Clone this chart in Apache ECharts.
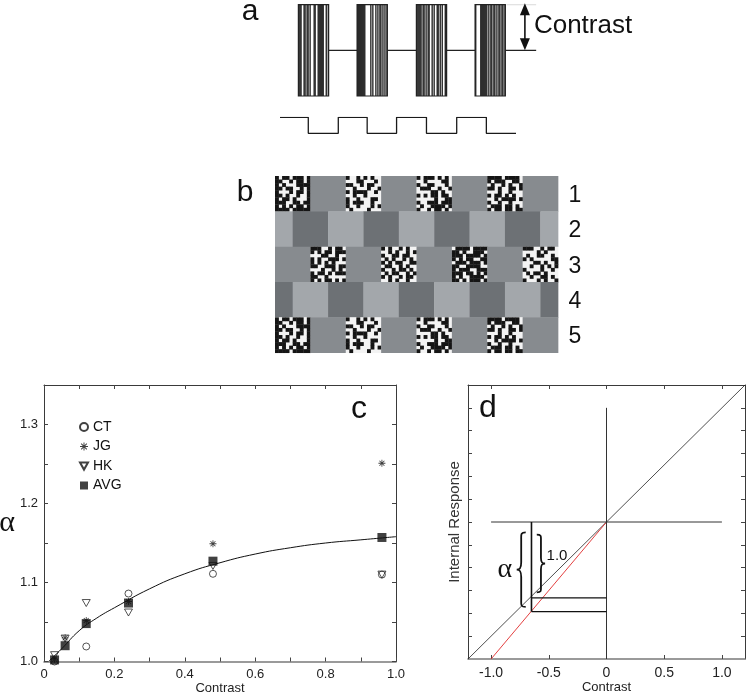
<!DOCTYPE html>
<html><head><meta charset="utf-8">
<script src="https://cdn.jsdelivr.net/npm/echarts@6/dist/echarts.min.js"></script>
<style>html,body{margin:0;padding:0;background:#fff}#c{width:747px;height:696px}</style>
</head><body><div id="c"></div>
<script>
// ===== Panel c data =====
const contrastLevels = [0.03, 0.06, 0.12, 0.24, 0.48, 0.96];
const alphaCT  = [1.000, 0.998, 1.019, 1.086, 1.111, 1.110];
const alphaJG  = [1.003, 1.030, 1.052, 1.076, 1.149, 1.251];
const alphaHK  = [1.008, 1.029, 1.074, 1.062, 1.121, 1.110];
const alphaAVG = [1.002, 1.020, 1.048, 1.074, 1.127, 1.157];
const fitX = [0.013, 0.05, 0.1, 0.15, 0.2, 0.3, 0.4, 0.5, 0.6, 0.7, 0.8, 0.9, 1.0];
const fitY = [1.000, 1.016, 1.039, 1.055, 1.068, 1.092, 1.111, 1.125, 1.136, 1.144, 1.150, 1.154, 1.158];
const cXLabels = [0, 0.2, 0.4, 0.6, 0.8, 1.0];
const cXTicks = [0, 0.1, 0.2, 0.3, 0.4, 0.5, 0.6, 0.7, 0.8, 0.9, 1.0];
const cYLabels = [1.0, 1.1, 1.2, 1.3];
const cYTicks = [1.0, 1.05, 1.1, 1.15, 1.2, 1.25, 1.3];
const seriesNames = ['CT', 'JG', 'HK', 'AVG'];

// ===== Panel d data =====
const dXLabels = [-1.0, -0.5, 0, 0.5, 1.0];
const dYTicks = [-1.0, -0.8, -0.6, -0.4, -0.2, 0, 0.2, 0.4, 0.6, 0.8, 1.0];
const dIdentity = [[-1.2, -1.2], [1.2, 1.2]];
const dScaled = [[-1.0, -1.2], [0, 0]];
const dVertical = [[0, -1.2], [0, 1.0]];
const dHorizontal = [[-1.0, 0], [1.0, 0]];
const dUpperLevel = [[-0.65, -0.665], [0, -0.665]];
const dLowerLevel = [[-0.65, -0.785], [0, -0.785]];
const dBracketLine = [[-0.65, 0], [-0.65, -0.785]];
// braces: [x0, y0, x1, y1, facing (1 = right "}", 0 = left "{")]
const dBraces = [[-0.604, -0.111, -0.532, -0.616, 1], [-0.778, -0.091, -0.700, -0.744, 0]];
const dAlphaPos = [-0.88, -0.413];
const dOnePos = [-0.429, -0.294];

// ===== Panel a data =====
const barStarts = [0.31, 1.30, 2.30, 3.29];
const barDuration = 0.51;
const barStripes = [
  '111001101101000110011111100101',
  '111111110000010100101011010101',
  '111110110101100101001101010011',
  '100001111111010110110101101101'
];
const meanLine = [[0.81, 0], [4.32, 0]];
const topGuide = [[3.82, 1], [4.32, 1]];
const arrowT = 4.13, arrowFrom = 0, arrowTo = 1.03;
const squareStart = 0, squareEnd = 3.98;
const squareEdges = [0.477, 0.983, 1.47, 1.966, 2.47, 2.98, 3.48];

// ===== Panel b data =====
const noisePatches = [
 ['#.##.###.#','##..#.##.#','#.#...####','##.##..#.#','#...#.##.#','##.#..#..#','#.##.#...#','###..##.##','#.#.#.##.#','####.#####'],
 ['#..#.#.#..','...##...#.','##..#.##..','..#...#..#','#.####..#.','..#..#....','#..#...##.','#.###..#..','#..#...#.#','.#....#...'],
 ['#.###.#.#.','..#....##.','#..##...#.','.###..#..#','....##.#..','#.#.##.##.','.....#..##','#..###.###','.#..####.#','#..#.##.#.'],
 ['####.####.','#.###..##.','.#..#.#..#','##.#..##.#','...#..#...','#.##.#.#..','..#.####.#','#..#..#...','.###.##.#.','#.##.##.##'],
 ['###..#.##.','#.#.##.###','...##..#..','#.#..###.#','#.#.#.#...','##..###.##','...#..#.#.','#.##.#.###','##..#.....','#.#.##.#.#'],
 ['#.#..#.#..','..#.#..#.#','#..##.##..','.#.#..#.#.','#.#.##..##','.##..#.#..','#..#.##.#.','.#.##..#.#','#.#..#.##.','..#.#..#..'],
 ['.####.####','##.#..###.','###.####.#','#.#.##..##','.###.###.#','##..####..','#.###..###','###.##.#.#','#.#..####.','##.#.###.#'],
 ['###..#.##.','....#.#...','.#..##..#.','#.#.....##','...##.#..#','..#..#.#.#','#....#..#.','.#.##.#...','..#..##.#.','#...#.#..#']
];
const bRows = [
  {offset: 0,    cells: ['n0','g','n1','g','n2','g','n3','g']},
  {offset: -0.5, cells: ['L','D','L','D','L','D','L','D','L']},
  {offset: 0,    cells: ['g','n4','g','n5','g','n6','g','n7']},
  {offset: -0.5, cells: ['D','L','D','L','D','L','D','L','D']},
  {offset: 0,    cells: ['n0','g','n1','g','n2','g','n3','g']}
];
const rowNumbers = ['1', '2', '3', '4', '5'];

// ===== build =====
const FONT = 'Liberation Sans, Arial, Helvetica, sans-serif';
const SERIF = 'Liberation Serif, DejaVu Serif, serif';
const bPalette = ['#151515', '#f3f3f3', '#878b8f', '#a3a7ab', '#6d7175'];
const bColorIdx = {g: 2, L: 3, D: 4};
const bItems = [];
bRows.forEach((row, r) => {
  row.cells.forEach((cell, k) => {
    const x0 = Math.max(0, row.offset + k), x1 = Math.min(8, row.offset + k + 1);
    if (cell[0] === 'n') {
      const pat = noisePatches[+cell.slice(1)];
      bItems.push([x0, x1, r, r + 1, 1]);
      pat.forEach((line, j) => {
        for (let i = 0; i < line.length; i++) {
          if (line[i] === '#') bItems.push([x0 + i / 10, x0 + (i + 1) / 10, r + j / 10, r + (j + 1) / 10, 0]);
        }
      });
    } else {
      bItems.push([x0, x1, r, r + 1, bColorIdx[cell]]);
    }
  });
});

const squarePts = [[squareStart, 1]];
let lvl = 1;
squareEdges.forEach(t => { squarePts.push([t, lvl]); lvl = 1 - lvl; squarePts.push([t, lvl]); });
squarePts.push([squareEnd, lvl]);

const barItems = barStarts.map((s, i) => [s, s + barDuration, i]);
const zip = (xs, ys) => xs.map((x, i) => [x, ys[i]]);

const ASTERISK = 'path://M4.4,0L5.6,0L5.6,10L4.4,10Z M0,4.4L10,4.4L10,5.6L0,5.6Z M8.96,8.12L8.12,8.96L1.04,1.88L1.88,1.04Z M8.12,1.04L8.96,1.88L1.88,8.96L1.04,8.12Z';
const TRI_DOWN = 'path://M0,0L10,0L5,9Z';
const BRACE_RIGHT = 'M0,0 C6,0 5,3 5,10 L5,40 C5,47 6,50 10,50 C6,50 5,53 5,60 L5,90 C5,97 6,100 0,100';
const BRACE_LEFT = 'M10,0 C4,0 5,3 5,10 L5,40 C5,47 4,50 0,50 C4,50 5,53 5,60 L5,90 C5,97 4,100 10,100';

const axisDark = {show: true, onZero: false, lineStyle: {color: '#3a3a3a', width: 1}};
const axisBottom = {show: true, onZero: false, lineStyle: {color: '#7a7a7a', width: 1.6}};
const tickIn = (vals) => ({show: true, inside: true, length: 4, customValues: vals, lineStyle: {color: '#444', width: 1}});
const noLabel = {show: false};
const hiddenAxis = (gi, min, max, inverse) => ({type: 'value', gridIndex: gi, min, max, inverse: !!inverse, show: false, splitLine: {show: false}});

const lineSeries = (data, color, width, xi, yi, z, smooth) => ({
  type: 'line', data, xAxisIndex: xi, yAxisIndex: yi, showSymbol: false, symbol: 'none', silent: true,
  smooth: !!smooth, lineStyle: {color, width}, z: z || 2, animation: false
});

const option = {
  backgroundColor: '#fff',
  animation: false,
  textStyle: {fontFamily: FONT},
  grid: [
    {left: 44, top: 385, width: 352, height: 276.5, containLabel: false, outerBoundsMode: 'none'},
    {left: 468, top: 385, width: 277, height: 274, containLabel: false, outerBoundsMode: 'none'},
    {left: 280, top: 4.7, width: 379.5, height: 91.3, containLabel: false, outerBoundsMode: 'none'},
    {left: 280, top: 117.3, width: 379.5, height: 16, containLabel: false, outerBoundsMode: 'none'},
    {left: 275, top: 176, width: 283, height: 176.7, containLabel: false, outerBoundsMode: 'none'}
  ],
  xAxis: [
    {type: 'value', gridIndex: 0, min: 0, max: 1, position: 'bottom', axisLine: axisBottom, axisTick: tickIn(cXTicks),
     axisLabel: {customValues: cXLabels, margin: 6, fontSize: 13, color: '#222', fontFamily: FONT, formatter: v => v === 0 ? '0' : v.toFixed(1)},
     splitLine: {show: false}, name: 'Contrast', nameLocation: 'middle', nameGap: 20,
     nameTextStyle: {fontSize: 13, color: '#222', fontFamily: FONT}},
    {type: 'value', gridIndex: 0, min: 0, max: 1, position: 'top', axisLine: axisDark, axisTick: tickIn(cXTicks), axisLabel: noLabel, splitLine: {show: false}},
    {type: 'value', gridIndex: 1, min: -1.2, max: 1.2, position: 'bottom', axisLine: axisBottom, axisTick: tickIn(dXLabels),
     axisLabel: {customValues: dXLabels, margin: 7, fontSize: 14, color: '#222', fontFamily: FONT, formatter: v => Math.abs(v) < 1e-9 ? '0' : v.toFixed(1)},
     splitLine: {show: false}, name: 'Contrast', nameLocation: 'middle', nameGap: 22,
     nameTextStyle: {fontSize: 13, color: '#222', fontFamily: FONT}},
    {type: 'value', gridIndex: 1, min: -1.2, max: 1.2, position: 'top', axisLine: axisDark, axisTick: tickIn(dXLabels), axisLabel: noLabel, splitLine: {show: false}},
    hiddenAxis(2, 0, 6.4),
    hiddenAxis(3, 0, 6.4),
    hiddenAxis(4, 0, 8)
  ],
  yAxis: [
    {type: 'value', gridIndex: 0, min: 1.0, max: 1.35, position: 'left', axisLine: axisDark, axisTick: tickIn(cYTicks),
     axisLabel: {customValues: cYLabels, margin: 6, fontSize: 13, color: '#222', fontFamily: FONT, formatter: v => v.toFixed(1)},
     splitLine: {show: false}, name: 'α', nameLocation: 'middle', nameRotate: 0, nameGap: 27,
     nameTextStyle: {fontSize: 30, color: '#111', fontFamily: SERIF}},
    {type: 'value', gridIndex: 0, min: 1.0, max: 1.35, position: 'right', axisLine: axisDark, axisTick: tickIn(cYTicks), axisLabel: noLabel, splitLine: {show: false}},
    {type: 'value', gridIndex: 1, min: -1.2, max: 1.2, position: 'left', axisLine: axisDark, axisTick: tickIn(dYTicks), axisLabel: noLabel,
     splitLine: {show: false}, name: 'Internal Response', nameLocation: 'middle', nameGap: 6,
     nameTextStyle: {fontSize: 15, color: '#333', fontFamily: FONT}},
    {type: 'value', gridIndex: 1, min: -1.2, max: 1.2, position: 'right', axisLine: axisDark, axisTick: tickIn(dYTicks), axisLabel: noLabel, splitLine: {show: false}},
    hiddenAxis(2, -1, 1),
    hiddenAxis(3, 0, 1),
    hiddenAxis(4, 0, 5, true)
  ],
  legend: {
    data: [{name: 'CT'}, {name: 'JG'}, {name: 'HK', icon: TRI_DOWN}, {name: 'AVG'}],
    orient: 'vertical', left: 74, top: 415, itemWidth: 8, itemHeight: 8, itemGap: 5.5,
    textStyle: {fontSize: 14, color: '#111', fontFamily: FONT}, selectedMode: false
  },
  series: [
    // panel c
    lineSeries(zip(fitX, fitY), '#111', 1, 0, 0, 1, true),
    {name: 'CT', type: 'scatter', xAxisIndex: 0, yAxisIndex: 0, data: zip(contrastLevels, alphaCT), symbol: 'circle', symbolSize: 7,
     itemStyle: {color: 'rgba(255,255,255,0)', borderColor: '#111', borderWidth: 0.9}, z: 3},
    {name: 'JG', type: 'scatter', xAxisIndex: 0, yAxisIndex: 0, data: zip(contrastLevels, alphaJG), symbol: ASTERISK, symbolSize: 7,
     itemStyle: {color: '#111'}, z: 3},
    {name: 'HK', type: 'scatter', xAxisIndex: 0, yAxisIndex: 0, data: zip(contrastLevels, alphaHK), symbol: TRI_DOWN, symbolSize: [8, 7],
     itemStyle: {color: 'rgba(255,255,255,0)', borderColor: '#111', borderWidth: 0.9}, z: 3},
    {name: 'AVG', type: 'scatter', xAxisIndex: 0, yAxisIndex: 0, data: zip(contrastLevels, alphaAVG), symbol: 'rect', symbolSize: 9,
     itemStyle: {color: '#111'}, z: 4},
    // panel d
    lineSeries(dIdentity, '#222', 0.8, 2, 2),
    lineSeries(dScaled, '#e02a2a', 0.9, 2, 2),
    lineSeries(dVertical, '#333', 1, 2, 2),
    lineSeries(dHorizontal, '#333', 1, 2, 2),
    lineSeries(dUpperLevel, '#111', 1.4, 2, 2),
    lineSeries(dLowerLevel, '#111', 1.4, 2, 2),
    lineSeries(dBracketLine, '#111', 1.6, 2, 2),
    {type: 'custom', xAxisIndex: 2, yAxisIndex: 2, data: dBraces, silent: true, z: 5,
     renderItem: (params, api) => {
       const p0 = api.coord([api.value(0), api.value(1)]);
       const p1 = api.coord([api.value(2), api.value(3)]);
       const x = Math.min(p0[0], p1[0]), y = Math.min(p0[1], p1[1]);
       return {type: 'path', shape: {pathData: api.value(4) ? BRACE_RIGHT : BRACE_LEFT, x, y,
               width: Math.abs(p1[0] - p0[0]), height: Math.abs(p1[1] - p0[1]), layout: 'cover'},
               style: {fill: 'none', stroke: '#111', lineWidth: 1.8}};
     }},
    // panel a
    lineSeries(meanLine, '#222', 1.2, 4, 4, 1),
    lineSeries(topGuide, '#cfcfcf', 1, 4, 4, 1),
    {type: 'custom', xAxisIndex: 4, yAxisIndex: 4, data: barItems, silent: true, z: 3,
     renderItem: (params, api) => {
       const s = api.value(0), e = api.value(1), idx = api.value(2);
       const pTop = api.coord([s, 1]), pBot = api.coord([e, -1]);
       const w = pBot[0] - pTop[0], h = pBot[1] - pTop[1];
       const stripes = barStripes[idx];
       const n = stripes.length;
       const children = [{type: 'rect', shape: {x: pTop[0], y: pTop[1], width: w, height: h}, style: {fill: '#fff'}}];
       for (let i = 0; i < n; i++) {
         if (stripes[i] === '1') children.push({type: 'rect', shape: {x: pTop[0] + i * w / n, y: pTop[1], width: w / n + 0.3, height: h}, style: {fill: '#1c1c1c'}});
       }
       children.push({type: 'rect', shape: {x: pTop[0], y: pTop[1], width: w, height: h}, style: {fill: 'none', stroke: '#222', lineWidth: 1.2}});
       return {type: 'group', children};
     }},
    lineSeries(squarePts, '#1a1a1a', 1.3, 5, 5),
    // panel b
    {type: 'custom', xAxisIndex: 6, yAxisIndex: 6, data: bItems, silent: true, progressive: 0,
     renderItem: (params, api) => {
       const p0 = api.coord([api.value(0), api.value(2)]);
       const p1 = api.coord([api.value(1), api.value(3)]);
       const x = Math.min(p0[0], p1[0]), y = Math.min(p0[1], p1[1]);
       return {type: 'rect', shape: {x, y, width: Math.abs(p1[0] - p0[0]) + 0.35, height: Math.abs(p1[1] - p0[1]) + 0.35},
               style: {fill: bPalette[api.value(4)]}};
     }}
  ]
};

const chart = echarts.init(document.getElementById('c'), null, {renderer: 'canvas', width: 747, height: 696});
chart.setOption(option);

const toD = p => chart.convertToPixel({xAxisIndex: 2, yAxisIndex: 2}, p);
const toA = p => chart.convertToPixel({xAxisIndex: 4, yAxisIndex: 4}, p);
const aBot = toA([arrowT, arrowFrom]), aTop = toA([arrowT, arrowTo]);
const headW = 5, headH = 12;
const alphaP = toD(dAlphaPos), oneP = toD(dOnePos);
const rowCenter = r => chart.convertToPixel({xAxisIndex: 6, yAxisIndex: 6}, [8, r + 0.5])[1];

const txt = (x, y, text, size, font, align) => ({type: 'text', x, y, z: 10,
  style: {text, fontSize: size, fontFamily: font || FONT, fill: '#111', align: align || 'center', verticalAlign: 'middle'}});

const graphics = [
  txt(250, 12, 'a', 30), txt(245, 193, 'b', 30), txt(359, 409, 'c', 32), txt(488, 408, 'd', 32),
  {type: 'line', shape: {x1: aBot[0], y1: aBot[1] - headH + 1, x2: aTop[0], y2: aTop[1] + headH - 1}, style: {stroke: '#111', lineWidth: 1.6}, z: 10},
  {type: 'polygon', shape: {points: [[aTop[0], aTop[1]], [aTop[0] - headW, aTop[1] + headH], [aTop[0] + headW, aTop[1] + headH]]}, style: {fill: '#111'}, z: 10},
  {type: 'polygon', shape: {points: [[aBot[0], aBot[1]], [aBot[0] - headW, aBot[1] - headH], [aBot[0] + headW, aBot[1] - headH]]}, style: {fill: '#111'}, z: 10},
  txt(aTop[0] + 9, 26, 'Contrast', 26, FONT, 'left'),
  txt(alphaP[0], alphaP[1], 'α', 28, SERIF),
  txt(oneP[0], oneP[1], '1.0', 15)
];
rowNumbers.forEach((s, r) => graphics.push(txt(575, rowCenter(r) + 2, s, 23)));
chart.setOption({graphic: graphics});
</script>
</body></html>
